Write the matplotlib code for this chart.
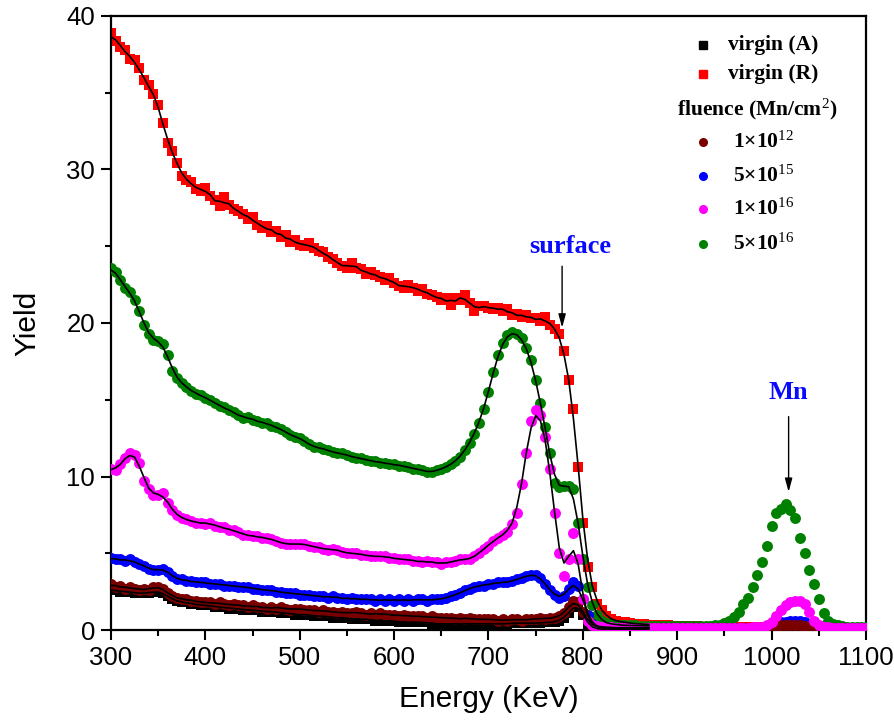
import numpy as np
import pandas as pd
import matplotlib
matplotlib.use('Agg')
import matplotlib.pyplot as plt

plt.rcParams['font.family'] = 'Liberation Sans'
plt.rcParams['mathtext.fontset'] = 'custom'
plt.rcParams['mathtext.rm'] = 'Liberation Serif'
plt.rcParams['mathtext.bf'] = 'Liberation Serif:bold'
plt.rcParams['mathtext.it'] = 'Liberation Serif:italic'

# energía (canales cada 5 keV)
energia = np.arange(300, 1101, 5)

virgen_A = [
    2.6, 2.6, 2.5, 2.5, 2.5, 2.4, 2.4, 2.4, 2.4, 2.5,
    2.5, 2.4, 2.2, 2.0, 1.9, 1.8, 1.8, 1.7, 1.7, 1.6,
    1.6, 1.6, 1.5, 1.5, 1.5, 1.4, 1.4, 1.4, 1.3, 1.3,
    1.3, 1.3, 1.2, 1.2, 1.2, 1.2, 1.1, 1.1, 1.1, 1.0,
    1.0, 1.0, 1.0, 0.9, 0.9, 0.9, 0.9, 0.8, 0.8, 0.8,
    0.8, 0.7, 0.7, 0.7, 0.7, 0.7, 0.6, 0.6, 0.6, 0.6,
    0.6, 0.5, 0.5, 0.5, 0.5, 0.5, 0.5, 0.5, 0.4, 0.4,
    0.4, 0.4, 0.4, 0.4, 0.4, 0.4, 0.4, 0.4, 0.4, 0.4,
    0.4, 0.4, 0.4, 0.4, 0.4, 0.45, 0.45, 0.45, 0.45, 0.45,
    0.45, 0.45, 0.5, 0.5, 0.5, 0.6, 0.8, 1.1, 1.5, 1.7,
    1.0, 0.4, 0.15, 0.08, 0.05, 0.05, 0.05, 0.05, 0.05, 0.05,
    0.05, 0.05, 0.05, 0.05, 0.05, 0.05, 0.05, 0.05, 0.05, 0.05,
    0.05, 0.05, 0.05, 0.05, 0.05, 0.05, 0.05, 0.05, 0.05, 0.05,
    0.05, 0.05, 0.05, 0.05, 0.05, 0.05, 0.05, 0.05, 0.05, 0.05,
    0.05, 0.05, 0.05, 0.05, 0.05, 0.05, 0.05, 0.05, 0.05, 0.05,
    0.05, 0.05, 0.05, 0.05, 0.05, 0.05, 0.05, 0.05, 0.05, 0.05,
    0.05]

virgen_R = [
    38.9, 38.4, 38.0, 37.8, 37.2, 37.1, 36.6, 35.8, 35.5, 34.9,
    34.2, 33.0, 31.7, 31.2, 30.4, 29.6, 29.3, 29.2, 28.7, 28.6,
    28.8, 28.3, 28.0, 27.6, 28.2, 27.7, 27.4, 27.3, 27.1, 26.8,
    26.9, 26.4, 26.2, 26.3, 25.9, 26.0, 25.6, 25.7, 25.3, 25.4,
    25.1, 25.0, 25.2, 24.9, 24.7, 24.6, 24.3, 24.2, 23.9, 23.7,
    23.6, 23.9, 23.6, 23.5, 23.2, 23.3, 23.1, 23.0, 22.8, 22.9,
    22.6, 22.4, 22.3, 22.5, 22.3, 22.1, 22.2, 21.9, 21.8, 21.7,
    21.5, 21.6, 21.2, 21.6, 21.5, 21.8, 21.3, 20.8, 21.1, 21.1,
    21.0, 20.9, 21.0, 20.8, 20.9, 20.5, 20.6, 20.4, 20.5, 20.3,
    20.3, 20.1, 20.4, 19.9, 19.6, 19.3, 18.2, 16.3, 14.4, 10.6,
    7.0, 4.1, 2.8, 1.7, 1.3, 0.9, 0.7, 0.6, 0.55, 0.5,
    0.45, 0.42, 0.4, 0.38, 0.35, 0.33, 0.32, 0.3, 0.3, 0.28,
    0.27, 0.26, 0.25, 0.24, 0.23, 0.22, 0.21, 0.2, 0.2, 0.2,
    0.2, 0.19, 0.19, 0.18, 0.18, 0.18, 0.17, 0.17, 0.17, 0.17,
    0.16, 0.16, 0.16, 0.16, 0.16, 0.16, 0.16, 0.15, 0.15, 0.15,
    0.15, 0.15, 0.15, 0.15, 0.15, 0.15, 0.15, 0.15, 0.15, 0.15,
    0.15]

f_1e12 = [
    3.0, 2.8, 2.9, 2.7, 2.8, 2.7, 2.6, 2.7, 2.6, 2.8,
    2.8, 2.7, 2.4, 2.2, 2.1, 2.0, 2.0, 1.9, 1.9, 1.8,
    1.8, 1.8, 1.7, 1.8, 1.7, 1.6, 1.7, 1.6, 1.6, 1.5,
    1.6, 1.5, 1.5, 1.4, 1.5, 1.4, 1.5, 1.4, 1.3, 1.4,
    1.4, 1.3, 1.3, 1.3, 1.2, 1.3, 1.2, 1.2, 1.1, 1.2,
    1.1, 1.1, 1.2, 1.1, 1.0, 1.1, 1.0, 1.1, 1.0, 1.0,
    1.0, 0.9, 1.0, 0.9, 0.9, 0.9, 0.9, 0.8, 0.9, 0.8,
    0.8, 0.8, 0.8, 0.7, 0.8, 0.7, 0.8, 0.7, 0.7, 0.7,
    0.7, 0.7, 0.6, 0.7, 0.6, 0.7, 0.7, 0.6, 0.7, 0.7,
    0.7, 0.8, 0.7, 0.8, 0.8, 0.9, 1.1, 1.5, 1.9, 1.8,
    1.2, 0.6, 0.3, 0.2, 0.15, 0.12, 0.12, 0.11, 0.11, 0.1,
    0.1, 0.1, 0.1, 0.1, 0.1, 0.1, 0.1, 0.1, 0.1, 0.1,
    0.1, 0.1, 0.1, 0.1, 0.1, 0.1, 0.1, 0.1, 0.1, 0.1,
    0.1, 0.1, 0.1, 0.1, 0.1, 0.1, 0.1, 0.12, 0.13, 0.15,
    0.2, 0.25, 0.3, 0.3, 0.32, 0.3, 0.3, 0.25, 0.2, 0.15,
    0.12, 0.1, 0.1, 0.1, 0.1, 0.1, 0.1, 0.1, 0.1, 0.1,
    0.1]

f_5e15 = [
    4.7, 4.6, 4.6, 4.5, 4.6, 4.4, 4.3, 4.2, 4.0, 3.9,
    3.9, 4.0, 3.8, 3.5, 3.3, 3.3, 3.2, 3.2, 3.1, 3.1,
    3.1, 3.0, 3.0, 3.0, 2.9, 2.9, 2.9, 2.8, 2.8, 2.8,
    2.7, 2.7, 2.6, 2.6, 2.6, 2.5, 2.5, 2.4, 2.4, 2.4,
    2.3, 2.3, 2.3, 2.2, 2.2, 2.2, 2.1, 2.2, 2.1, 2.1,
    2.0, 2.1, 2.0, 2.0, 2.0, 2.0, 1.9, 2.0, 1.9, 2.0,
    1.9, 2.0, 1.9, 2.0, 1.9, 2.0, 2.0, 1.9, 2.0, 2.0,
    2.0, 2.1, 2.2, 2.3, 2.4, 2.6, 2.7, 2.8, 2.9, 2.9,
    3.0, 3.0, 3.1, 3.1, 3.1, 3.2, 3.3, 3.4, 3.5, 3.6,
    3.6, 3.4, 3.0, 2.6, 2.3, 2.1, 2.2, 2.7, 3.1, 2.9,
    2.0, 1.0, 0.4, 0.2, 0.15, 0.13, 0.12, 0.12, 0.12, 0.12,
    0.12, 0.12, 0.12, 0.12, 0.12, 0.12, 0.12, 0.12, 0.12, 0.12,
    0.12, 0.12, 0.12, 0.12, 0.12, 0.12, 0.12, 0.12, 0.12, 0.12,
    0.12, 0.12, 0.12, 0.12, 0.12, 0.12, 0.13, 0.14, 0.15, 0.2,
    0.3, 0.4, 0.5, 0.55, 0.6, 0.6, 0.6, 0.55, 0.4, 0.25,
    0.15, 0.13, 0.12, 0.12, 0.12, 0.12, 0.12, 0.12, 0.12, 0.12,
    0.12]

f_1e16 = [
    10.5, 10.4, 10.8, 11.2, 11.5, 11.4, 10.9, 9.7, 9.2, 8.8,
    8.8, 8.9, 8.3, 7.8, 7.5, 7.3, 7.2, 7.1, 7.0, 7.0,
    6.9, 7.0, 6.8, 6.7, 6.7, 6.5, 6.5, 6.4, 6.2, 6.2,
    6.1, 6.1, 6.0, 6.0, 5.9, 5.8, 5.7, 5.6, 5.6, 5.6,
    5.6, 5.6, 5.5, 5.4, 5.4, 5.3, 5.2, 5.3, 5.2, 5.1,
    5.0, 5.0, 5.0, 4.9, 4.9, 4.8, 4.8, 4.8, 4.8, 4.7,
    4.7, 4.6, 4.6, 4.6, 4.5, 4.5, 4.4, 4.5, 4.4, 4.4,
    4.3, 4.4, 4.4, 4.5, 4.6, 4.6, 4.6, 4.8, 5.0, 5.3,
    5.5, 5.8, 6.0, 6.2, 6.4, 6.9, 7.6, 9.5, 11.5, 13.6,
    14.3, 14.0, 12.6, 10.5, 7.6, 5.0, 3.5, 4.6, 6.3, 4.6,
    2.0, 0.6, 0.3, 0.25, 0.2, 0.18, 0.17, 0.16, 0.15, 0.15,
    0.15, 0.15, 0.15, 0.15, 0.15, 0.15, 0.15, 0.15, 0.15, 0.15,
    0.15, 0.15, 0.15, 0.15, 0.15, 0.15, 0.15, 0.15, 0.15, 0.15,
    0.15, 0.15, 0.15, 0.15, 0.15, 0.16, 0.17, 0.18, 0.2, 0.3,
    0.5, 0.9, 1.3, 1.6, 1.8, 1.9, 1.9, 1.7, 1.2, 0.6,
    0.3, 0.2, 0.17, 0.15, 0.15, 0.15, 0.15, 0.15, 0.15, 0.15,
    0.15]

f_5e16 = [
    23.6, 23.3, 22.8, 22.3, 22.0, 21.5, 20.8, 19.9, 19.3, 18.9,
    18.8, 18.6, 17.9, 16.9, 16.4, 16.1, 15.8, 15.6, 15.4, 15.3,
    15.1, 15.0, 14.8, 14.6, 14.5, 14.3, 14.2, 14.0, 13.8, 13.9,
    13.7, 13.6, 13.5, 13.5, 13.3, 13.2, 13.1, 12.9, 12.7, 12.6,
    12.5, 12.3, 12.1, 11.9, 11.9, 11.8, 11.7, 11.6, 11.5, 11.5,
    11.4, 11.3, 11.2, 11.2, 11.1, 11.0, 11.0, 10.9, 10.9, 10.8,
    10.8, 10.7, 10.7, 10.6, 10.5, 10.5, 10.4, 10.3, 10.3, 10.4,
    10.5, 10.6, 10.8, 11.0, 11.3, 11.7, 12.2, 12.8, 13.5, 14.4,
    15.5, 16.8, 17.9, 18.7, 19.2, 19.4, 19.3, 19.0, 18.4, 17.6,
    16.3, 14.8, 13.2, 11.5, 9.6, 9.3, 9.4, 9.4, 9.2, 7.0,
    4.6, 2.8, 1.6, 1.0, 0.6, 0.45, 0.4, 0.35, 0.33, 0.3,
    0.3, 0.3, 0.28, 0.28, 0.27, 0.27, 0.26, 0.26, 0.25, 0.25,
    0.25, 0.25, 0.25, 0.25, 0.25, 0.25, 0.25, 0.27, 0.3, 0.35,
    0.45, 0.6, 0.85, 1.15, 1.7, 2.1, 2.8, 3.6, 4.4, 5.5,
    6.8, 7.6, 7.9, 8.2, 7.8, 7.3, 6.0, 5.0, 3.9, 3.0,
    2.0, 1.1, 0.6, 0.4, 0.3, 0.25, 0.2, 0.2, 0.2, 0.2,
    0.2]

# (datos, color, marcador, tamaño, zorder)
series = [
    (virgen_R, '#ff0000', 's', 42, 2),
    (f_5e16, '#008000', 'o', 62, 3),
    (f_5e15, '#0000ff', 'o', 62, 4),
    (virgen_A, '#000000', 's', 42, 5),
    (f_1e12, '#7a0000', 'o', 62, 6),
    (f_1e16, '#ff00ff', 'o', 62, 7),
]

fig, ax = plt.subplots(figsize=(8.95, 7.25), dpi=100)
fig.subplots_adjust(left=0.124, right=0.9676, bottom=0.131, top=0.978)

mascara = energia <= 870
for datos, color, marcador, tam, z in series:
    ax.scatter(energia, datos, s=tam, marker=marcador, color=color,
               linewidths=0, zorder=z)
    ajuste = pd.Series(datos).rolling(3, center=True, min_periods=1).mean()
    ax.plot(energia[mascara], ajuste[mascara], color='black', lw=1.2, zorder=10)

ax.set_xlim(300, 1100)
ax.set_ylim(0, 40)
ax.set_xticks(np.arange(300, 1101, 100))
ax.set_xticks(np.arange(350, 1100, 100), minor=True)
ax.set_yticks(np.arange(0, 41, 10))
ax.set_yticks(np.arange(5, 40, 10), minor=True)
ax.tick_params(which='major', direction='out', length=7.5, width=1.5,
               labelsize=18.5, pad=4)
ax.tick_params(which='minor', direction='out', length=4, width=1.5)
for lado in ax.spines.values():
    lado.set_linewidth(1.6)

ax.set_xlabel('Energy (KeV)', fontsize=21.5, labelpad=11)
ax.set_ylabel('Yield', fontsize=21.5, labelpad=18)

# anotaciones
serif = dict(family='Liberation Serif', fontweight='bold')
ax.annotate('', xy=(778, 19.7), xytext=(778, 23.7),
            arrowprops=dict(arrowstyle='-|>,head_length=0.8,head_width=0.22',
                            color='black', lw=1.0, shrinkA=0, shrinkB=0))
ax.text(787, 25.0, 'surface', color='#0a0aff', fontsize=19, ha='center',
        va='center', **serif)
ax.annotate('', xy=(1018, 9.0), xytext=(1018, 13.9),
            arrowprops=dict(arrowstyle='-|>,head_length=0.8,head_width=0.22',
                            color='black', lw=1.0, shrinkA=0, shrinkB=0))
ax.text(1018, 15.5, 'Mn', color='#0a0aff', fontsize=19, ha='center',
        va='center', **serif)

# leyenda a mano
filas = [
    ('s', '#000000', 'virgin (A)', 0.953),
    ('s', '#ff0000', 'virgin (R)', 0.905),
    ('o', '#7a0000', r'1×10$^{12}$', 0.795),
    ('o', '#0000ff', r'5×10$^{15}$', 0.739),
    ('o', '#ff00ff', r'1×10$^{16}$', 0.685),
    ('o', '#008000', r'5×10$^{16}$', 0.629),
]
for marcador, color, texto, yy in filas:
    ax.plot([0.784], [yy], marker=marcador, color=color, markersize=5.5,
            linestyle='none', transform=ax.transAxes, zorder=12)
    xx = 0.817 if marcador == 's' else 0.824
    ax.text(xx, yy, texto, transform=ax.transAxes, fontsize=15.5,
            va='center', ha='left', **serif)
ax.text(0.750, 0.848, r'fluence (Mn/cm$^{2}$)', transform=ax.transAxes,
        fontsize=15.5, va='center', ha='left', **serif)

plt.savefig('out.png', dpi=100)
